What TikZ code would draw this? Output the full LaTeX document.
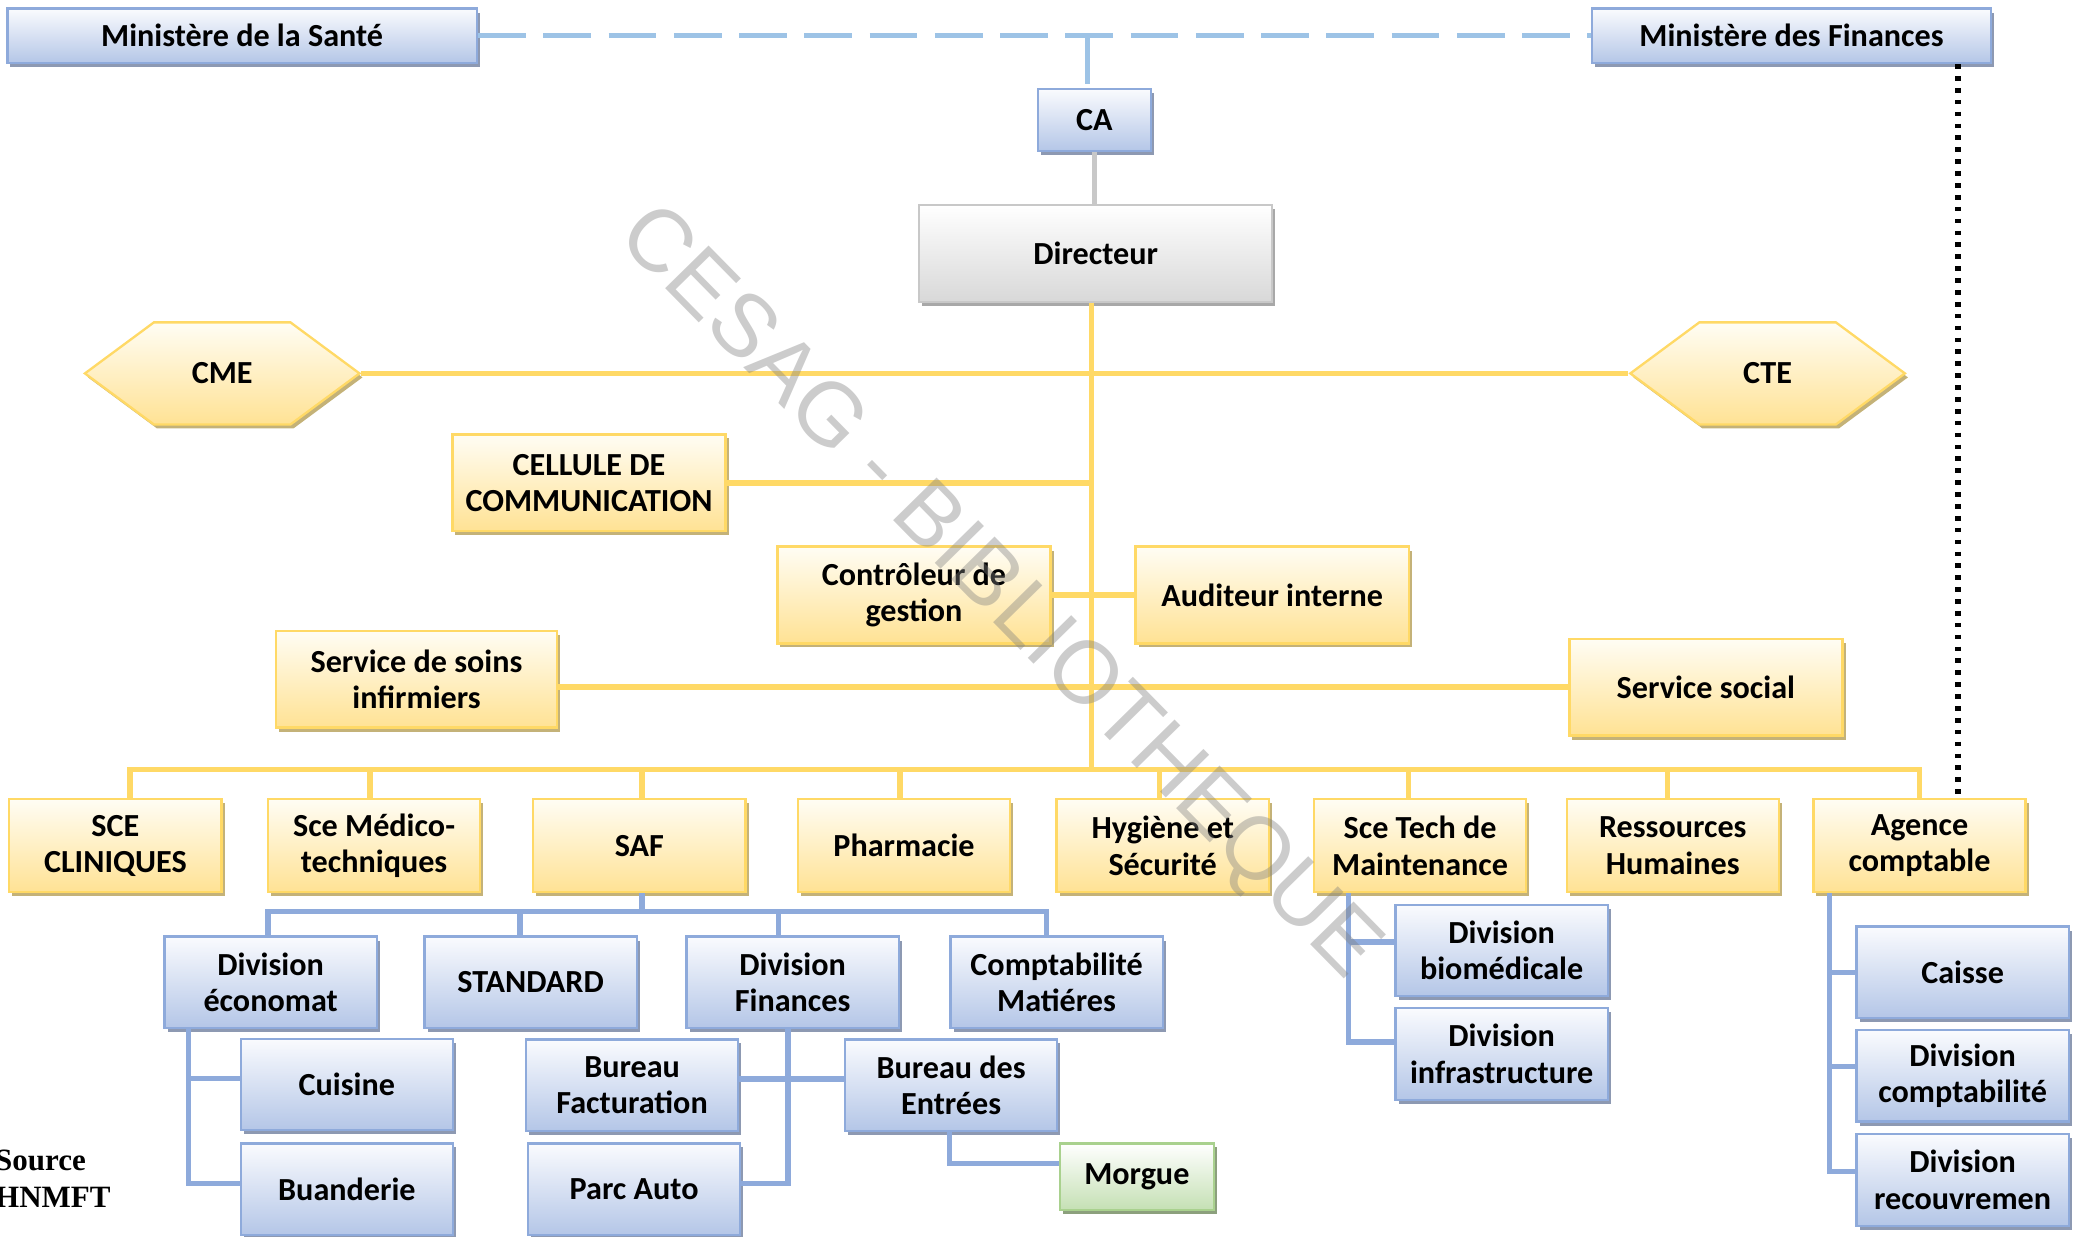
\documentclass[tikz,border=0pt]{standalone}
\usepackage{fontspec}
\setmainfont{Carlito}
\newfontfamily\sourcefont{Liberation Serif}
\newfontfamily\markfont{Liberation Sans}
\usetikzlibrary{shadows, shapes.symbols}
\definecolor{YellowLine}{RGB}{255,217,102}
\definecolor{YellowTop}{RGB}{255,253,244}
\definecolor{YellowBot}{RGB}{255,226,148}
\definecolor{YellowShadow}{RGB}{196,178,120}
\definecolor{BlueLine}{RGB}{142,170,219}
\definecolor{BlueTop}{RGB}{250,251,254}
\definecolor{BlueBot}{RGB}{180,198,231}
\definecolor{BlueShadow}{RGB}{141,153,178}
\definecolor{DashBlue}{RGB}{157,195,230}
\definecolor{GrayLine}{RGB}{200,200,200}
\definecolor{GrayBot}{RGB}{216,216,216}
\definecolor{GrayShadow}{RGB}{168,168,168}
\definecolor{GreenLine}{RGB}{169,209,142}
\definecolor{GreenBot}{RGB}{197,224,180}
\definecolor{GreenShadow}{RGB}{140,160,125}
\tikzset{
  orgbox/.style={draw, line width=1pt, align=center, inner sep=2pt,
    font=\bfseries\fontsize{13.8}{15.6}\selectfont,
    minimum width=3.2cm, minimum height=1.4cm},
  yellowbox/.style={orgbox, draw=YellowLine, top color=YellowTop, bottom color=YellowBot,
    drop shadow={shadow xshift=1.3pt, shadow yshift=-1.7pt, fill=YellowShadow, opacity=1}},
  bluebox/.style={orgbox, draw=BlueLine, top color=BlueTop, bottom color=BlueBot,
    minimum height=1.38cm,
    drop shadow={shadow xshift=1.3pt, shadow yshift=-1.7pt, fill=BlueShadow, opacity=1}},
  graybox/.style={orgbox, draw=GrayLine, top color=white, bottom color=GrayBot,
    drop shadow={shadow xshift=1.3pt, shadow yshift=-1.7pt, fill=GrayShadow, opacity=1}},
  greenbox/.style={orgbox, draw=GreenLine, top color=white, bottom color=GreenBot,
    drop shadow={shadow xshift=1.3pt, shadow yshift=-1.7pt, fill=GreenShadow, opacity=1}},
  hexa/.style={yellowbox, signal, signal to=west and east, signal pointer angle=73,
    minimum width=4.14cm, minimum height=1.54cm},
  yline/.style={YellowLine, line width=2.3pt},
  bline/.style={BlueLine, line width=2.3pt},
  grayline/.style={GrayLine, line width=2.3pt},
  dashline/.style={DashBlue, line width=2.3pt, dash pattern=on 20.5pt off 7.5pt},
  dotline/.style={black, line width=2.4pt, dash pattern=on 2pt off 3.1pt}
}
\begin{document}
\begin{tikzpicture}[x=0.02cm, y=-0.02cm]
  \useasboundingbox (0,0) rectangle (1568,932);
  \node[bluebox, minimum width=7.08cm, minimum height=0.82cm] (minsante) at (182.5,27) {Ministère de la Santé};
  \node[bluebox, minimum width=6.02cm, minimum height=0.82cm] (minfin) at (1350.5,27) {Ministère des Finances};
  \node[bluebox, minimum width=1.71cm, minimum height=0.94cm] (ca) at (825,90.5) {CA};
  \node[graybox, minimum width=5.32cm, minimum height=1.46cm] (dir) at (826,191) {Directeur};
  \node[hexa] (cme) at (167.5,281.5) {CME};
  \node[hexa] (cte) at (1332.5,281.5) {CTE};
  \node[yellowbox, minimum width=4.12cm, minimum height=1.46cm] (cell) at (444,364) {CELLULE DE\\COMMUNICATION};
  \node[yellowbox, minimum width=4.12cm, minimum height=1.46cm] (ctrl) at (689,448.5) {Contrôleur de\\gestion};
  \node[yellowbox, minimum width=4.12cm, minimum height=1.46cm] (audit) at (959,448.5) {Auditeur interne};
  \node[yellowbox, minimum width=4.24cm, minimum height=1.46cm] (ssi) at (314,512) {Service de soins\\infirmiers};
  \node[yellowbox, minimum width=4.12cm, minimum height=1.46cm] (social) at (1286,518) {Service social};

  \node[yellowbox] (sce) at (87,637.5) {SCE\\CLINIQUES};
  \node[yellowbox] (medico) at (282,637.5) {Sce Médico-\\techniques};
  \node[yellowbox] (saf) at (482,637.5) {SAF};
  \node[yellowbox] (pharma) at (681.5,637.5) {Pharmacie};
  \node[yellowbox] (hyg) at (876.5,637.5) {Hygiène et\\Sécurité};
  \node[yellowbox] (tech) at (1070.5,637.5) {Sce Tech de\\Maintenance};
  \node[yellowbox] (rh) at (1261,637.5) {Ressources\\Humaines};
  \node[yellowbox] (agence) at (1447,637.5) {Agence\\comptable};

  \node[bluebox] (eco) at (204,740.5) {Division\\économat};
  \node[bluebox] (std) at (400,740.5) {STANDARD};
  \node[bluebox] (divfin) at (597.5,740.5) {Division\\Finances};
  \node[bluebox] (compta) at (796.5,740.5) {Comptabilité\\Matiéres};
  \node[bluebox] (cuisine) at (261.5,817.5) {Cuisine};
  \node[bluebox] (buand) at (261.5,896.5) {Buanderie};
  \node[bluebox] (bfact) at (476.5,818) {Bureau\\Facturation};
  \node[bluebox] (parc) at (478,896.5) {Parc Auto};
  \node[bluebox] (bentr) at (717,818) {Bureau des\\Entrées};
  \node[greenbox, minimum width=2.32cm, minimum height=1cm] (morgue) at (857,887) {Morgue};
  \node[bluebox] (biomed) at (1132,716.5) {Division\\biomédicale};
  \node[bluebox] (infra) at (1132,794.5) {Division\\infrastructure};
  \node[bluebox] (caisse) at (1479.5,733) {Caisse};
  \node[bluebox] (dcompta) at (1479.5,811) {Division\\comptabilité};
  \node[bluebox] (recouv) at (1479.5,889.5) {Division\\recouvremen};

  \coordinate (hub) at (823,580);
  \coordinate (dotTop) at ([xshift=-0.52cm]minfin.south east);
  \coordinate (ecoSp) at ([xshift=0.38cm]eco.south west);
  \coordinate (techSp) at ([xshift=0.54cm]tech.south west);
  \coordinate (agSp) at ([xshift=0.26cm]agence.south west);

  \draw[dashline] (minsante.east) -- (minfin.west);
  \draw[dashline] ([xshift=-0.1cm]ca.north |- minsante.east) -- ([xshift=-0.1cm]ca.north);
  \draw[grayline] (ca.south) -- (ca.south |- dir.north);
  \draw[dotline] (dotTop) -- (dotTop |- agence.north);

  \draw[yline] (dir.south -| hub) -- (hub);
  \draw[yline] (cme.east) -- (cte.west);
  \draw[yline] (cell.east) -- (cell.east -| hub);
  \draw[yline] (ctrl.east) -- (audit.west);
  \draw[yline] (social.west -| ssi.east) -- (social.west);
  \draw[yline, line cap=rect] ([xshift=0.22cm]sce.north |- hub) -- (agence.north |- hub);
  \foreach \n/\dx in {sce/0.22, medico/-0.06, saf/0.04, pharma/-0.06, hyg/-0.05, tech/-0.17, rh/-0.08, agence/0}
    \draw[yline] ([xshift=\dx cm]\n.north) -- ([xshift=\dx cm]\n.north |- hub);

  \draw[bline] ([xshift=0.04cm]saf.south) -- ++(0,15.5);
  \draw[bline] ([xshift=-0.04cm]eco.north) -- ++(0,-18) -| ([xshift=-0.15cm]compta.north);
  \draw[bline] ([xshift=-0.16cm]std.north) -- ++(0,-18);
  \draw[bline] ([xshift=-0.21cm]divfin.north) -- ++(0,-18);
  \draw[bline] (ecoSp) |- ([yshift=0.09cm]buand.west);
  \draw[bline] ([yshift=0.09cm]cuisine.west) -| (ecoSp);
  \draw[bline] ([xshift=-0.07cm]divfin.south) |- ([yshift=0.09cm]parc.east);
  \draw[bline] ([yshift=0.09cm]bfact.east) -- ([yshift=0.09cm]bentr.west);
  \draw[bline] ([xshift=-0.02cm]bentr.south) |- ([yshift=0.2cm]morgue.west);
  \draw[bline] (techSp) |- ([yshift=0.18cm]infra.west);
  \draw[bline] ([yshift=0.13cm]biomed.west) -| (techSp);
  \draw[bline] (agSp) |- ([yshift=0.13cm]recouv.west);
  \draw[bline] (caisse.west) -| (agSp);
  \draw[bline] ([yshift=0.14cm]dcompta.west) -| (agSp);

  \node[anchor=base west, inner sep=0pt, font=\sourcefont\bfseries\fontsize{13.3}{16}\selectfont] (srcA) at (-4,882) {Source};
  \node[anchor=base west, inner sep=0pt, font=\sourcefont\bfseries\fontsize{13.3}{16}\selectfont] (srcB) at (-4,910) {HNMFT};
  \node[rotate=-45.5, text=gray, opacity=0.4, font=\markfont\fontsize{38}{38}\selectfont] (mark) at (752,448) {CESAG - BIBLIOTHEQUE};
\end{tikzpicture}
\end{document}
